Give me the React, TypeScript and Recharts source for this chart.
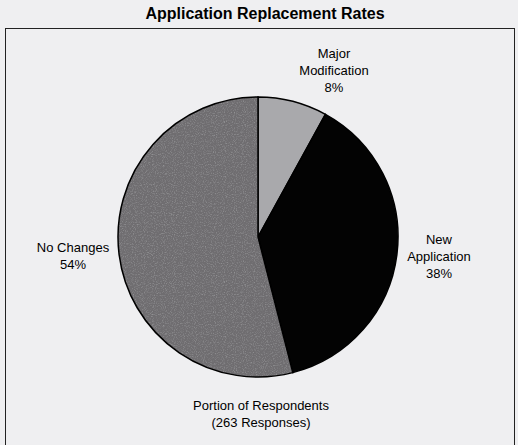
import React from 'react';
import { PieChart, Pie, Cell } from 'recharts';

// slices, clockwise from 12 o'clock
const categories: string[] = ['Major Modification', 'New Application', 'No Changes'];
const shares: number[] = [8, 38, 54];
const labelLines: string[][] = [
    ['Major', 'Modification', '8%'],
    ['New', 'Application', '38%'],
    ['No Changes', '54%'],
];

const title = 'Application Replacement Rates';
const footer: string[] = ['Portion of Respondents', '(263 Responses)'];

const colors = ['#a9a9ac', '#030303', 'url(#speckle)'];
// label block centres, relative to the pie centre
const labelOffsets = [
    { dx: 76, dy: -167 },
    { dx: 181, dy: 19 },
    { dx: -185, dy: 18 },
];

const data = categories.map((name, i) => ({ name, value: shares[i] }));

const FONT = '"Liberation Sans", Arial, Helvetica, sans-serif';
const LINE_H = 17;

const renderLabel = (props: any) => {
    const { cx, cy, index } = props;
    const lines = labelLines[index];
    const off = labelOffsets[index];
    const x = cx + off.dx;
    const y0 = cy + off.dy - ((lines.length - 1) * LINE_H) / 2;
    return (
        <text x={x} y={y0} textAnchor="middle" dominantBaseline="central" fontFamily={FONT} fontSize={13} fill="#000">
            {lines.map((l, k) => (
                <tspan key={k} x={x} y={y0 + k * LINE_H}>
                    {l}
                </tspan>
            ))}
        </text>
    );
};

const App: React.FC = () => {
    return (
        <div style={{ position: 'absolute', left: 0, top: 0, width: 518, height: 445, background: '#efeff1', fontFamily: FONT }}>
            <div style={{ position: 'absolute', left: 0, top: 5, width: 530, textAlign: 'center', fontWeight: 'bold', fontSize: 16, color: '#000' }}>
                {title}
            </div>
            <div style={{ position: 'absolute', left: 5, top: 28, width: 510, height: 430, border: '1.5px solid #222', boxSizing: 'border-box' }} />
            <PieChart width={518} height={445} margin={{ top: 0, right: 0, bottom: 0, left: 0 }} style={{ position: 'absolute', left: 0, top: 0 }}>
                <defs>
                    <filter id="grain" x="0" y="0" width="100%" height="100%">
                        <feTurbulence type="fractalNoise" baseFrequency="0.9" numOctaves={2} seed={3} result="n" />
                        <feColorMatrix in="n" type="matrix" values="0 0 0 0 0.3  0 0 0 0 0.3  0 0 0 0 0.31  0 0 0 -2.2 1.15" />
                    </filter>
                    <pattern id="speckle" patternUnits="userSpaceOnUse" width={160} height={160}>
                        <rect width={160} height={160} fill="#6f6d70" />
                        <rect width={160} height={160} filter="url(#grain)" />
                    </pattern>
                </defs>
                <Pie
                    data={data}
                    dataKey="value"
                    nameKey="name"
                    cx={258}
                    cy={237}
                    outerRadius={140}
                    startAngle={90}
                    endAngle={-270}
                    stroke="#000"
                    strokeWidth={1.5}
                    label={renderLabel}
                    labelLine={false}
                    isAnimationActive={false}
                >
                    {data.map((d, i) => (
                        <Cell key={d.name} fill={colors[i]} />
                    ))}
                </Pie>
                <text x={261} y={405} textAnchor="middle" dominantBaseline="central" fontFamily={FONT} fontSize={13} fill="#000">
                    <tspan x={261} y={405}>{footer[0]}</tspan>
                    <tspan x={261} y={422}>{footer[1]}</tspan>
                </text>
            </PieChart>
        </div>
    );
};

export default App;
